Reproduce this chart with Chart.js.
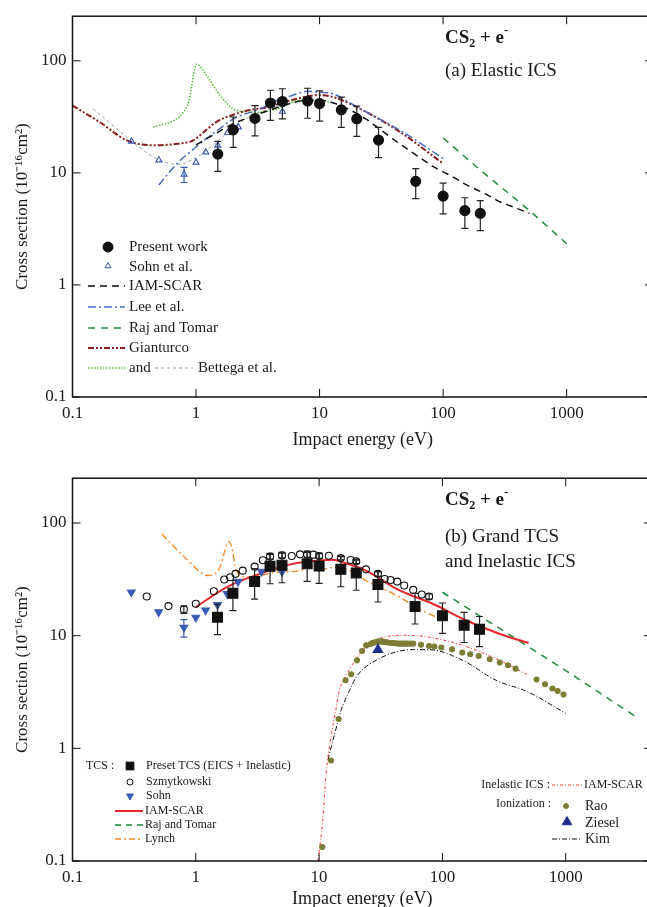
<!DOCTYPE html>
<html>
<head>
<meta charset="utf-8">
<script src="https://cdn.jsdelivr.net/npm/chart.js@4"></script>
<style>
  html, body { margin: 0; padding: 0; background: #fff; overflow: hidden; width: 647px; height: 907px; }
  .panel { position: absolute; left: 0; width: 660px; }
  #wrapA { top: 0; height: 451px; }
  #wrapB { top: 462px; height: 448px; }
</style>
</head>
<body>
<div class="panel" id="wrapA"><canvas id="chartA"></canvas></div>
<div class="panel" id="wrapB"><canvas id="chartB"></canvas></div>
<script>
// ============================================
// CS2 + e-  cross sections (two log-log panels)
// ============================================

const SERIF = '"Liberation Serif", "Times New Roman", serif';

// ---- axes ----
const xTickLabels = ['0.1', '1', '10', '100', '1000'];
const yTickLabels = ['0.1', '1', '10', '100'];
const xDecades = [0.1, 1, 10, 100, 1000];
const yDecades = [0.1, 1, 10, 100];

// ---- panel (a) : elastic ICS ----
const presentE   = [1.5, 2, 3, 4, 5, 8, 10, 15, 20, 30, 60, 100, 150, 200];
const presentVal = [14.7, 24.2, 30.6, 42, 43.3, 43.8, 41.5, 36.5, 30.3, 19.6, 8.4, 6.2, 4.6, 4.35];
const presentErr = [4.4, 7.3, 9.2, 12.6, 13, 13.1, 12.5, 11, 9.1, 5.9, 2.5, 1.9, 1.4, 1.3];

const sohnElE   = [0.3, 0.5, 0.8, 1, 1.2, 1.5, 1.8, 2.2, 5];
const sohnElVal = [19.1, 13.0, 9.7, 12.4, 15.3, 17.6, 22.8, 25.6, 35.3];
const sohnElErr = [0, 0, 1.5, 0, 0, 0, 0, 0, 0];

const iamElE   = [1, 1.5, 2, 3, 4, 6, 8, 10, 13, 18, 24, 30, 45, 60, 84, 120, 155, 220, 290, 400, 500];
const iamElVal = [17.8, 23, 27.5, 32.5, 36.5, 42, 44.5, 44.5, 42, 36, 30, 25, 18, 14.5, 11.3, 9.2, 7.8, 6.5, 5.5, 4.8, 4.35];

const leeE   = [0.5, 0.7, 1, 1.2, 1.5, 2, 3.3, 4.5, 6, 8, 10, 13, 17, 24, 45, 70, 100];
const leeVal = [7.8, 12.1, 17, 20.1, 24, 30.3, 37.2, 44.2, 49, 53.4, 52.5, 50.6, 43, 34.8, 23.9, 17.5, 13.4];

const rajElE   = [100, 200, 500, 1000];
const rajElVal = [20.5, 10.6, 4.6, 2.33];

const giantE   = [0.1, 0.167, 0.275, 0.466, 0.7, 0.95, 1.2, 1.5, 2, 2.6, 3.75, 6.1, 10, 13, 24, 45, 100];
const giantVal = [39.8, 28.3, 19.5, 17.6, 18.2, 19.5, 24, 29, 33, 36, 38.5, 45, 49.5, 47.3, 34.8, 23.1, 12.1];

const bettegaGreenE   = [0.45, 0.7, 0.79, 0.87, 1.01, 1.22, 1.57, 2.14, 3.3, 4.5, 7, 10, 12];
const bettegaGreenVal = [25.6, 30.3, 34.8, 42.7, 93.3, 73.6, 48.9, 36, 34.8, 37.2, 44.2, 44.2, 43];

const bettegaGrayE   = [0.147, 0.2, 0.296, 0.48, 0.7, 1.08, 1.57, 2.28, 3.3, 5, 8, 10];
const bettegaGrayVal = [37.2, 28, 19.5, 13.4, 11.9, 14.4, 20.1, 28.4, 34.8, 40, 45, 45];

// ---- panel (b) : grand TCS and inelastic ICS ----
const tcsE   = [1.5, 2, 3, 4, 5, 8, 10, 15, 20, 30, 60, 100, 150, 200];
const tcsVal = [14.6, 23.8, 30.2, 41.3, 42.2, 43.4, 41.6, 38.8, 36.1, 28.4, 18.2, 15.0, 12.4, 11.4];
const tcsErr = [4.4, 7.1, 9.1, 12.4, 12.7, 13, 12.5, 11.6, 10.8, 8.5, 5.5, 4.5, 3.7, 3.4];

const szE   = [0.4, 0.6, 0.8, 1, 1.4, 1.7, 1.9, 2.1, 2.4, 3, 3.5, 4, 5, 6, 7, 8, 9, 10, 12, 15, 18, 20, 24, 30, 34, 38, 43, 49, 58, 68, 78];
const szVal = [22.3, 18.3, 17.1, 19.2, 24.8, 31.5, 33, 35.4, 37.8, 41, 46.7, 50.3, 51.6, 51, 52.7, 52.4, 52.4, 51, 51.3, 49, 47, 45.7, 38.8, 35.4, 31.9, 31.2, 30.2, 27.9, 25.5, 23.2, 22.3];
const szErr = [0, 0, 1.3, 0, 0, 0, 0, 0, 0, 0, 0, 2.5, 2.5, 0, 0, 2.5, 0, 2.5, 0, 2, 0, 2, 0, 1.8, 0, 0, 0, 0, 0, 0, 1.2];

const sohnTE   = [0.3, 0.5, 0.8, 1, 1.2, 1.5, 1.8, 2.2, 3.4, 5];
const sohnTVal = [24.3, 16.2, 11.8, 14.5, 16.8, 18.8, 23.5, 30.2, 37.1, 37];
const sohnTErr = [0, 0, 2.1, 0, 0, 0, 0, 0, 0, 0];

const iamTE   = [1, 1.77, 3.3, 6.1, 10, 13, 15.6, 24, 45, 83.5, 155, 289, 500];
const iamTVal = [17.9, 26.9, 35.4, 43.4, 46.4, 47.1, 44.8, 37.8, 25.2, 19.2, 13.7, 10.4, 8.6];

const rajTE   = [100, 1000, 3600];
const rajTVal = [24.3, 4.9, 1.95];

const lynchE   = [0.53, 0.84, 1.26, 1.57, 1.72, 1.83, 1.94, 2.14, 2.6, 4.5, 7, 8.9, 11.4, 13, 17.7, 24, 45, 61, 89];
const lynchVal = [80, 48, 34.2, 40.5, 56.9, 68.7, 63, 37.8, 33, 36.5, 37.8, 41.9, 39.2, 40.5, 37.8, 30.9, 22, 17.9, 14.6];

const inelE   = [9.8, 10.7, 11.4, 12.5, 13.8, 14.6, 16.6, 22.6, 30.7, 50, 78, 146, 272, 500];
const inelVal = [0.1, 0.23, 0.6, 1.27, 2.33, 3.28, 4.46, 7.41, 9.4, 10.07, 9.7, 8.2, 6.25, 4.46];

const kimE   = [11.8, 13.4, 15.1, 17.7, 20, 30.7, 57, 78, 146, 272, 494, 1000];
const kimVal = [0.79, 1.36, 2.19, 3.28, 4.3, 6.25, 7.52, 7.52, 6.04, 4.02, 3.17, 2.04];

const raoE   = [10.6, 12.5, 14.4, 16.4, 18.2, 20.3, 22.3, 24.1, 26, 27, 28, 29, 30, 31, 32, 33, 34, 35, 36, 38, 40, 42, 44, 46, 48, 50, 52, 55, 58, 67, 78, 86, 98, 120, 145, 168, 197, 242, 292, 340, 392, 580, 680, 780, 860, 960];
const raoVal = [0.133, 0.78, 1.82, 4.02, 4.55, 6.04, 7.31, 8.2, 8.4, 8.6, 8.7, 8.8, 8.85, 8.9, 8.9, 8.85, 8.8, 8.75, 8.7, 8.6, 8.6, 8.55, 8.5, 8.5, 8.5, 8.5, 8.5, 8.5, 8.5, 8.3, 8.1, 8.0, 7.85, 7.57, 7.08, 6.84, 6.6, 6.17, 5.77, 5.46, 5.1, 4.08, 3.71, 3.4, 3.23, 3.0];

const zieselE   = [30];
const zieselVal = [7.5];

// ---- colours ----
const C = {
  black: '#111', blue: '#3b5bb5', lee: '#4a6cc0', green: '#1e8c3c', darkred: '#8b1c1c',
  lightgreen: '#52c234', gray: '#9a9a9a', orange: '#f08a2c', red: '#e8262b',
  pink: '#ff3b3b', olive: '#7d7d35', navy: '#1f2d8a'
};

// ---- dataset helpers ----
const pts = (xs, ys) => xs.map((x, i) => ({ x, y: ys[i] }));

function lineSet(label, xs, ys, color, dash, width) {
  return {
    label, data: pts(xs, ys), showLine: true, borderColor: color, backgroundColor: color,
    borderDash: dash, borderWidth: width, pointRadius: 0, pointHoverRadius: 0,
    cubicInterpolationMode: 'monotone', fill: false
  };
}

function markSet(label, xs, ys, errs, style, color, filled, radius, rotation) {
  return {
    label, data: pts(xs, ys), showLine: false, errors: errs,
    pointStyle: style, pointRadius: radius, pointHoverRadius: radius, pointRotation: rotation || 0,
    borderColor: color, backgroundColor: filled ? color : 'rgba(0,0,0,0)', pointBorderWidth: 1.1
  };
}

function tickValues(decades) {
  const out = [];
  decades.forEach(d => { for (let k = 1; k <= 9; k++) out.push(+(d * k).toPrecision(3)); });
  return out;
}

function labelFor(v, labels) {
  const s = labels.find(l => Math.abs(parseFloat(l) - v) < 1e-9 * v);
  return s === undefined ? null : s;
}

// ---- plugins ----
const errorBars = {
  id: 'errorBars',
  beforeDatasetDraw(chart, args) {
    const ds = chart.data.datasets[args.index];
    if (!ds.errors) return;
    const { ctx, chartArea: a } = chart;
    const xs = chart.scales.x, ys = chart.scales.y;
    ctx.save();
    ctx.beginPath(); ctx.rect(a.left, a.top, a.right - a.left, a.bottom - a.top); ctx.clip();
    ctx.strokeStyle = ds.borderColor === C.black ? '#222' : ds.borderColor;
    ctx.lineWidth = 1.2;
    ds.data.forEach((p, i) => {
      const e = ds.errors[i];
      if (!e) return;
      const px = xs.getPixelForValue(p.x);
      const t = ys.getPixelForValue(p.y + e), b = ys.getPixelForValue(p.y - e);
      ctx.beginPath();
      ctx.moveTo(px, t); ctx.lineTo(px, b);
      ctx.moveTo(px - 3.5, t); ctx.lineTo(px + 3.5, t);
      ctx.moveTo(px - 3.5, b); ctx.lineTo(px + 3.5, b);
      ctx.stroke();
    });
    ctx.restore();
  }
};

const isMajor = v => Math.abs(Math.log10(v) - Math.round(Math.log10(v))) < 1e-6;

const frame = {
  id: 'frame',
  afterDraw(chart) {
    const { ctx, chartArea: a } = chart;
    ctx.save();
    ctx.strokeStyle = '#111';
    ctx.lineWidth = 1.5;
    ctx.setLineDash([]);
    ctx.strokeRect(a.left, a.top, a.right - a.left, a.bottom - a.top);
    ctx.lineWidth = 1;
    chart.scales.x.ticks.forEach(t => {
      const px = chart.scales.x.getPixelForValue(t.value);
      const len = isMajor(t.value) ? 8 : 4.5;
      ctx.beginPath();
      ctx.moveTo(px, a.bottom); ctx.lineTo(px, a.bottom - len);
      ctx.moveTo(px, a.top); ctx.lineTo(px, a.top + len);
      ctx.stroke();
    });
    chart.scales.y.ticks.forEach(t => {
      const py = chart.scales.y.getPixelForValue(t.value);
      const len = isMajor(t.value) ? 8 : 4.5;
      ctx.beginPath();
      ctx.moveTo(a.left, py); ctx.lineTo(a.left + len, py);
      ctx.moveTo(a.right, py); ctx.lineTo(a.right - len, py);
      ctx.stroke();
    });
    ctx.restore();
  }
};

// rich text: parts of [text, size, dy, bold]
function drawRich(ctx, parts, x, y) {
  let cx = x;
  parts.forEach(([t, size, dy, bold]) => {
    ctx.font = (bold ? 'bold ' : '') + size + 'px ' + SERIF;
    ctx.fillText(t, cx, y + dy);
    cx += ctx.measureText(t).width;
  });
}

function sampleLine(ctx, x1, x2, y, color, dash, width) {
  ctx.save();
  ctx.strokeStyle = color; ctx.lineWidth = width; ctx.setLineDash(dash);
  ctx.beginPath(); ctx.moveTo(x1, y); ctx.lineTo(x2, y); ctx.stroke();
  ctx.restore();
}

function sampleMark(ctx, x, y, style, color, filled, radius, rotation) {
  ctx.save();
  ctx.strokeStyle = color; ctx.fillStyle = filled ? color : 'rgba(0,0,0,0)';
  ctx.setLineDash([]);
  Chart.helpers.drawPoint(ctx, { pointStyle: style, radius, rotation: rotation || 0, borderWidth: 1.1 }, x, y);
  ctx.restore();
}

const legendA = {
  id: 'legendA',
  afterDraw(chart) {
    const ctx = chart.ctx;
    ctx.save();
    ctx.fillStyle = '#1a1a1a';
    ctx.textBaseline = 'middle';
    drawRich(ctx, [['CS', 19, 0, true], ['2', 12, 6, true], [' + e', 19, 0, true], ['-', 13, -7, true]], 445, 38);
    ctx.fillStyle = '#1a1a1a';
    ctx.font = '19px ' + SERIF;
    ctx.fillText('(a) Elastic ICS', 445, 71);

    ctx.font = '15px ' + SERIF;
    sampleMark(ctx, 108, 247, 'circle', C.black, true, 5);
    ctx.fillText('Present work', 129, 247);
    sampleMark(ctx, 108, 266, 'triangle', C.blue, false, 3.5);
    ctx.fillText('Sohn et al.', 129, 267);
    sampleLine(ctx, 88, 125, 286, C.black, [7, 5], 1.5);
    ctx.fillText('IAM-SCAR', 129, 286);
    sampleLine(ctx, 88, 125, 307, C.lee, [8, 3, 2, 3], 1.5);
    ctx.fillText('Lee et al.', 129, 307);
    sampleLine(ctx, 88, 125, 328, C.green, [7, 6], 1.5);
    ctx.fillText('Raj and Tomar', 129, 328);
    sampleLine(ctx, 88, 125, 348, C.darkred, [6, 2, 2, 2, 2, 2], 2);
    ctx.fillText('Gianturco', 129, 348);
    sampleLine(ctx, 88, 125, 368, C.lightgreen, [1.5, 1.5], 1.5);
    ctx.fillText('and', 129, 368);
    sampleLine(ctx, 155, 193, 368, C.gray, [3, 3], 1);
    ctx.fillText('Bettega et al.', 198, 368);
    ctx.restore();
  }
};

const legendB = {
  id: 'legendB',
  afterDraw(chart) {
    const ctx = chart.ctx;
    ctx.save();
    ctx.fillStyle = '#1a1a1a';
    ctx.textBaseline = 'middle';
    drawRich(ctx, [['CS', 19, 0, true], ['2', 12, 6, true], [' + e', 19, 0, true], ['-', 13, -7, true]], 445, 38);
    ctx.font = '19px ' + SERIF;
    ctx.fillText('(b) Grand TCS', 445, 75);
    ctx.fillText('and Inelastic ICS', 445, 100);

    ctx.font = '12px ' + SERIF;
    ctx.fillText('TCS :', 86, 304);
    sampleMark(ctx, 130, 304, 'rect', C.black, true, 5.5);
    ctx.fillText('Preset TCS (EICS + Inelastic)', 146, 304);
    sampleMark(ctx, 130, 320, 'circle', C.black, false, 3);
    ctx.fillText('Szmytkowski', 146, 320);
    sampleMark(ctx, 130, 334, 'triangle', C.blue, true, 4, 180);
    ctx.fillText('Sohn', 146, 334);
    sampleLine(ctx, 115, 143, 349, C.red, [], 2);
    ctx.fillText('IAM-SCAR', 145, 349);
    sampleLine(ctx, 115, 143, 363, C.green, [6, 5], 1.5);
    ctx.fillText('Raj and Tomar', 145, 363);
    sampleLine(ctx, 115, 143, 377, C.orange, [6, 3, 2, 3], 1.3);
    ctx.fillText('Lynch', 145, 377);

    ctx.textAlign = 'right';
    ctx.fillText('Inelastic ICS :', 550, 323);
    ctx.fillText('Ionization :', 551, 342);
    ctx.textAlign = 'left';
    sampleLine(ctx, 552, 582, 323, C.pink, [3, 2, 1, 2], 1);
    ctx.fillText('IAM-SCAR', 584, 323);
    sampleMark(ctx, 566, 344, 'circle', C.olive, true, 2.5);
    ctx.font = '14px ' + SERIF;
    ctx.fillText('Rao', 585, 344);
    sampleMark(ctx, 567, 360, 'triangle', C.navy, true, 5.5);
    ctx.fillText('Ziesel', 585, 361);
    sampleLine(ctx, 552, 582, 377, C.black, [5, 2, 1, 2], 1);
    ctx.fillText('Kim', 585, 377);
    ctx.restore();
  }
};

// ---- scales ----
function xScale(height) {
  return {
    type: 'logarithmic', position: 'bottom', min: 0.1, max: 5000,
    afterBuildTicks: s => { s.ticks = tickValues(xDecades).map(v => ({ value: v })); },
    afterFit: s => { s.height = height; },
    grid: { display: false, drawTicks: false }, border: { display: false },
    ticks: {
      padding: 6, color: '#1a1a1a', autoSkip: false, maxRotation: 0,
      font: { family: SERIF, size: 17 }, callback: v => labelFor(v, xTickLabels)
    },
    title: { display: true, text: 'Impact energy (eV)', color: '#1a1a1a', padding: 0, font: { family: SERIF, size: 18 } }
  };
}

function yScale() {
  return {
    type: 'logarithmic', position: 'left', min: 0.1, max: 250,
    afterBuildTicks: s => { s.ticks = tickValues(yDecades).filter(v => v <= 250).map(v => ({ value: v })); },
    afterFit: s => { s.width = 60.5; },
    grid: { display: false, drawTicks: false }, border: { display: false },
    ticks: {
      padding: 6, color: '#1a1a1a', autoSkip: false,
      font: { family: SERIF, size: 17 }, callback: v => labelFor(v, yTickLabels)
    },
    title: { display: true, text: 'Cross section (10⁻¹⁶cm²)', color: '#1a1a1a', padding: 0, font: { family: SERIF, size: 17 } }
  };
}

function baseOptions(top, xHeight) {
  return {
    responsive: true, maintainAspectRatio: false, animation: false, devicePixelRatio: 1,
    layout: { padding: { left: 12, top: top, right: 7, bottom: 0 } },
    plugins: { legend: { display: false }, tooltip: { enabled: false } },
    scales: { x: xScale(xHeight), y: yScale() }
  };
}

Chart.defaults.font.family = SERIF;

// ---- panel (a) ----
new Chart(document.getElementById('chartA'), {
  type: 'scatter',
  data: {
    datasets: [
      markSet('Present work', presentE, presentVal, presentErr, 'circle', C.black, true, 5),
      markSet('Sohn et al.', sohnElE, sohnElVal, sohnElErr, 'triangle', C.blue, false, 3.5),
      lineSet('IAM-SCAR', iamElE, iamElVal, C.black, [7, 5], 1.5),
      lineSet('Lee et al.', leeE, leeVal, C.lee, [8, 3, 2, 3], 1.5),
      lineSet('Raj and Tomar', rajElE, rajElVal, C.green, [7, 6], 1.5),
      lineSet('Gianturco', giantE, giantVal, C.darkred, [6, 2, 2, 2, 2, 2], 2),
      lineSet('Bettega et al. (1)', bettegaGreenE, bettegaGreenVal, C.lightgreen, [1.5, 1.5], 1.5),
      lineSet('Bettega et al. (2)', bettegaGrayE, bettegaGrayVal, C.gray, [3, 3], 1)
    ]
  },
  options: baseOptions(13.5, 54),
  plugins: [errorBars, frame, legendA]
});

// ---- panel (b) ----
new Chart(document.getElementById('chartB'), {
  type: 'scatter',
  data: {
    datasets: [
      markSet('Ziesel', zieselE, zieselVal, null, 'triangle', C.navy, true, 5.5),
      markSet('Preset TCS', tcsE, tcsVal, tcsErr, 'rect', C.black, true, 7),
      markSet('Szmytkowski', szE, szVal, szErr, 'circle', C.black, false, 3.5),
      markSet('Sohn', sohnTE, sohnTVal, sohnTErr, 'triangle', C.blue, true, 4.5, 180),
      markSet('Rao', raoE, raoVal, null, 'circle', C.olive, true, 2.5),
      lineSet('IAM-SCAR', iamTE, iamTVal, C.red, [], 2),
      lineSet('Raj and Tomar', rajTE, rajTVal, C.green, [7, 6], 1.5),
      lineSet('Lynch', lynchE, lynchVal, C.orange, [7, 3, 2, 3], 1.4),
      lineSet('Inelastic IAM-SCAR', inelE, inelVal, C.pink, [3, 2, 1, 2], 1),
      lineSet('Kim', kimE, kimVal, C.black, [5, 2, 1, 2], 1)
    ]
  },
  options: baseOptions(15, 49),
  plugins: [errorBars, frame, legendB]
});
</script>
</body>
</html>
